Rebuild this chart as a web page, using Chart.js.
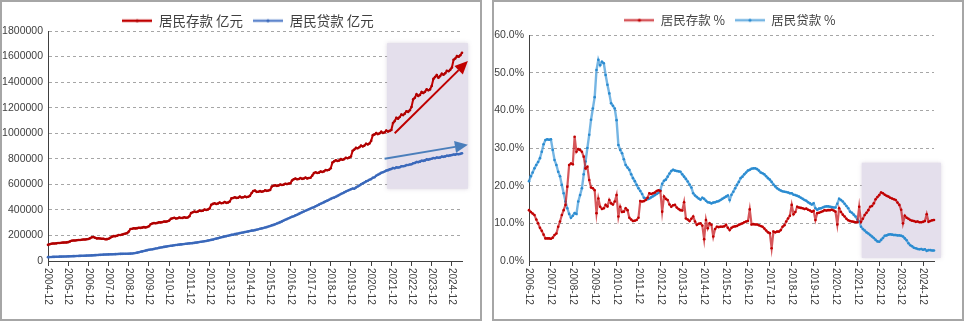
<!DOCTYPE html>
<html>
<head>
<meta charset="utf-8">
<script src="https://cdn.jsdelivr.net/npm/chart.js@4.4.1/dist/chart.umd.min.js"></script>
<style>
  html, body { margin: 0; padding: 0; background: #fff; }
  .panel { position: absolute; top: 0; height: 321px; box-sizing: border-box; border: 2px solid #a6a6a6; }
  #p1 { left: 0; width: 482px; }
  #p2 { left: 492px; width: 472px; }
  canvas { display: block; }
</style>
</head>
<body>
<div class="panel" id="p1"><canvas id="c1" width="478" height="317"></canvas></div>
<div class="panel" id="p2"><canvas id="c2" width="468" height="317"></canvas></div>
<script>
// left chart: 居民存款 / 居民贷款, 亿元, monthly 2004-12 .. 2025-06
const depositLevel = [
  126200,
  131000,134500,136500,136800,138000,140500,141000,142500,144000,144500,145500,147500,
  153000,158000,160000,160500,162000,164500,164000,166000,168500,168000,170000,172000,
  178000,186000,187500,182000,177000,178500,176000,174000,174500,170500,171000,174000,
  181000,190000,195000,194500,198000,203500,204000,206500,211000,214500,218000,230000,
  250000,252500,256500,255000,257000,260000,259000,261500,265000,263000,266000,272000,
  288000,294000,297000,295500,298000,303000,302000,304500,309500,308000,311000,316000,
  330000,334000,338500,333000,334500,340500,336000,337500,342500,338000,340500,350000,
  376000,381000,387000,384000,386500,394000,391000,394000,402000,399000,402500,411000,
  440000,447000,452000,446500,449500,458000,451500,454500,462000,455000,458000,466000,
  490000,493000,499000,494000,495500,503500,496500,498500,505000,500000,502500,510000,
  532000,548000,551000,541000,542000,546500,542000,545500,553000,549000,551500,556000,
  583000,589500,593000,588000,590500,598500,594500,597500,605000,602000,605500,608000,
  630000,640000,645000,640000,641500,649000,643000,645500,653000,646500,649000,652000,
  668000,688000,694000,689000,691500,701000,697000,701500,712000,710000,714000,726000,
  770000,780000,789000,783000,786000,797000,792000,797500,808000,804000,810000,818000,
  862000,872000,885000,882000,890000,903000,897000,903000,918000,912000,920000,940000,
  985000,990000,1001000,993000,999000,1012000,1002000,1007000,1021000,1013000,1018000,1025000,
  1080000,1095000,1120000,1114000,1127000,1147000,1142000,1153000,1172000,1167000,1180000,1205000,
  1265000,1278000,1305000,1292000,1300000,1323000,1315000,1324000,1344000,1336000,1343000,1370000,
  1425000,1440000,1455000,1435000,1447000,1466000,1458000,1469000,1488000,1485000,1496000,1514000,
  1575000,1585000,1604000,1598000,1610000,1630000
];
const loanLevel = [
  30000,
  30800,31300,31900,32400,32900,33400,33900,34300,34800,35200,35700,36200,
  36800,37200,37800,38400,39000,39600,40100,40600,41100,41600,42100,42600,
  43300,43900,44700,45600,46500,47400,48200,49000,49900,50600,51300,51800,
  52300,52600,53200,53800,54400,55000,55500,55900,56300,56600,56900,57300,
  57800,58600,60500,62800,65500,68800,72000,75200,78500,81500,84800,88000,
  90000,91500,94500,97500,100000,103000,105500,108000,110500,112500,115000,117500,
  119000,120500,123000,125000,126500,128500,130000,131500,133000,134500,136000,138000,
  139000,140000,142000,144000,146000,148500,150500,152500,155000,157000,159500,162500,
  165500,167500,172000,175500,178500,182500,185500,188500,192000,195000,198000,201000,
  204500,206000,210000,212500,215000,218500,221000,223500,226500,229000,231500,234500,
  237500,239000,242000,245000,248000,252000,255000,258500,262000,265500,269500,274000,
  279000,282500,288000,293000,298000,304000,310000,316000,322500,328000,334000,340000,
  346500,350500,357000,362500,368500,375000,381000,387000,393500,399000,405000,411000,
  417000,421000,428000,434000,441000,448000,454000,460500,467000,472500,479000,486000,
  492500,496000,503000,509500,516500,524000,530500,537000,544000,549500,556000,562000,
  567000,566000,575000,583500,591000,600000,607500,614500,623000,628500,635500,641000,
  651000,656000,667500,675000,681500,690000,695000,700500,707500,711000,717000,720500,
  728000,726000,733000,731500,734000,742000,741500,744000,750500,751500,755000,757000,
  765000,767500,775000,774000,777500,785000,783500,787500,795000,793000,797500,800000,
  806000,804500,810000,807500,810500,816500,815000,818500,824000,823000,827000,829000,
  833000,832500,837500,836000,838500,843000
];

// right chart: 同比 %, monthly 2006-12 .. 2025-06
const depositGrowth = [
  13.5,
  13.0,12.6,12.2,11.0,10.0,8.8,8.0,7.0,6.0,6.0,6.0,5.9,
  6.2,6.9,7.3,9.1,10.5,12.2,13.5,14.9,19.7,25.5,25.9,25.7,
  33.0,29.0,29.7,29.5,29.0,27.7,24.6,25.0,21.5,19.5,19.3,18.8,
  12.7,16.6,14.4,13.8,14.0,14.9,14.5,16.2,15.3,15.0,15.8,17.5,
  11.8,14.4,13.0,13.1,14.0,13.5,11.5,11.0,10.6,10.7,10.9,11.5,
  15.9,15.8,15.9,16.2,16.8,18.0,17.8,18.0,18.2,18.6,18.8,18.6,
  13.1,17.1,16.5,16.2,15.0,14.4,14.8,14.9,14.2,13.8,13.5,13.4,
  15.6,11.3,11.0,10.6,11.2,11.8,10.5,9.6,9.9,10.0,9.4,5.8,
  10.9,8.7,10.0,9.6,6.5,8.5,9.1,9.0,9.1,9.1,9.2,9.6,
  8.8,8.2,8.8,9.1,9.2,9.3,9.6,9.8,10.0,10.3,10.5,10.6,
  13.7,9.7,9.8,9.7,9.7,9.5,9.3,9.1,8.6,8.1,7.6,7.4,
  3.4,7.8,7.6,7.8,7.8,8.2,9.1,9.5,10.5,11.3,12.0,14.9,
  12.4,13.0,14.4,14.2,14.1,14.0,13.8,13.9,13.6,13.4,13.1,13.3,
  10.9,12.7,12.8,13.0,13.2,13.5,13.4,13.5,13.5,13.6,13.4,13.1,
  9.7,14.0,13.0,12.3,11.8,11.2,10.8,10.6,10.5,10.4,10.3,10.3,
  14.4,10.4,11.2,12.2,12.8,13.5,14.4,14.6,15.3,16.4,17.0,17.5,
  18.2,18.0,17.6,17.3,17.1,16.8,16.6,16.4,16.2,15.5,14.9,13.6,
  10.0,12.0,11.5,11.2,10.9,10.7,10.6,10.4,10.5,10.3,10.3,10.4,
  10.6,12.4,10.4,10.6,10.8,10.9
];
const loanGrowth = [
  21.2,
  22.5,23.5,24.6,25.5,26.3,27.3,29.0,31.0,32.1,32.3,32.2,32.3,
  29.5,26.8,25.5,23.7,22.5,20.2,18.0,15.8,14.0,12.5,11.5,12.0,
  12.7,12.5,15.8,17.5,19.3,23.0,26.4,30.0,33.5,37.5,40.5,43.5,
  50.7,53.4,52.0,52.9,52.5,49.4,46.8,44.5,41.9,41.2,40.5,37.4,
  30.8,29.5,28.6,27.0,25.5,24.8,24.2,23.0,22.0,21.2,20.2,19.3,
  18.6,17.8,16.8,16.6,16.4,16.6,16.9,17.2,17.5,17.8,18.1,18.8,
  20.5,21.3,21.6,22.4,23.2,23.9,24.2,24.0,23.9,23.8,23.7,23.0,
  22.4,21.8,21.1,20.3,19.5,18.0,17.4,17.0,16.6,16.3,16.8,16.5,
  16.0,15.6,15.5,15.3,15.5,15.6,15.8,15.9,16.2,16.5,16.8,17.1,
  17.4,16.2,17.6,18.4,19.3,20.2,21.0,22.0,22.4,23.0,23.5,24.0,
  24.2,24.5,24.6,24.6,24.4,24.0,23.5,23.3,23.0,22.5,22.0,21.6,
  21.0,20.3,19.8,19.3,19.0,18.7,18.5,18.4,18.3,18.2,18.0,18.0,
  17.6,17.5,17.3,17.1,16.8,16.5,16.2,16.0,15.6,15.3,15.0,15.3,
  14.0,13.6,13.9,14.0,14.2,14.4,14.5,14.5,14.4,14.3,14.2,14.2,
  15.2,16.5,16.2,15.8,15.2,14.6,14.0,13.1,12.8,12.3,11.8,11.0,
  10.5,9.1,8.5,8.1,7.6,7.3,6.9,6.5,6.1,5.6,5.2,5.1,
  5.6,6.1,6.7,6.8,7.0,7.1,7.0,6.9,6.9,6.8,6.8,6.7,
  6.5,6.0,5.5,4.7,4.2,3.9,3.5,3.4,3.2,3.1,3.2,3.0,
  3.1,2.7,2.9,2.9,2.8,2.8
];

function monthLabels(y, m, n) {
  const out = [];
  for (let i = 0; i < n; i++) {
    out.push(y + '-' + String(m).padStart(2, '0'));
    m++; if (m > 12) { m = 1; y++; }
  }
  return out;
}
const levelMonths = monthLabels(2004, 12, depositLevel.length);
const growthMonths = monthLabels(2006, 12, depositGrowth.length);

const TICK_FONT = '"Liberation Sans", Arial, sans-serif';
const CJK_FONT = '"Noto Sans CJK SC", sans-serif';

function legendIcon(dot, line) {
  const c = document.createElement('canvas');
  c.width = 30; c.height = 6;
  const g = c.getContext('2d');
  g.strokeStyle = line; g.lineWidth = 2.5;
  g.beginPath(); g.moveTo(0, 3); g.lineTo(30, 3); g.stroke();
  g.fillStyle = dot;
  g.beginPath(); g.arc(15, 3, 1.6, 0, Math.PI * 2); g.fill();
  return c;
}

// shaded box + arrows, placed in data units through the scales
function annotations(box, arrows) {
  return {
    id: 'annot',
    beforeDatasetsDraw(chart) {
      const {ctx, scales: {x, y}} = chart;
      const l = x.getPixelForValue(box.x0), r = x.getPixelForValue(box.x1);
      const t = y.getPixelForValue(box.y1), b = y.getPixelForValue(box.y0);
      ctx.save();
      ctx.shadowColor = 'rgba(120,100,140,0.25)';
      ctx.shadowBlur = 4;
      ctx.fillStyle = 'rgb(228,223,236)';
      ctx.fillRect(l, t, r - l, b - t);
      ctx.restore();
    },
    afterDatasetsDraw(chart) {
      const {ctx, scales: {x, y}} = chart;
      arrows.forEach(a => {
        const x1 = x.getPixelForValue(a.x0), y1 = y.getPixelForValue(a.y0);
        const x2 = x.getPixelForValue(a.x1), y2 = y.getPixelForValue(a.y1);
        const ang = Math.atan2(y2 - y1, x2 - x1);
        const hl = 13, hw = 6;
        ctx.save();
        ctx.strokeStyle = a.color; ctx.fillStyle = a.color; ctx.lineWidth = 2;
        ctx.beginPath();
        ctx.moveTo(x1, y1);
        ctx.lineTo(x2 - hl * Math.cos(ang), y2 - hl * Math.sin(ang));
        ctx.stroke();
        ctx.beginPath();
        ctx.moveTo(x2, y2);
        ctx.lineTo(x2 - hl * Math.cos(ang) + hw * Math.sin(ang), y2 - hl * Math.sin(ang) - hw * Math.cos(ang));
        ctx.lineTo(x2 - hl * Math.cos(ang) - hw * Math.sin(ang), y2 - hl * Math.sin(ang) + hw * Math.cos(ang));
        ctx.closePath();
        ctx.fill();
        ctx.restore();
      });
    }
  };
}

// x labels read top-to-bottom, only the December ticks
function verticalLabels(months) {
  return {
    id: 'vlabels',
    afterDraw(chart) {
      const {ctx, scales: {x}} = chart;
      ctx.save();
      ctx.font = '10px ' + TICK_FONT;
      ctx.fillStyle = '#404040';
      ctx.textAlign = 'left';
      ctx.textBaseline = 'middle';
      months.forEach((m, i) => {
        if (!m.endsWith('-12')) return;
        ctx.save();
        ctx.translate(x.getPixelForValue(i), x.bottom - x.height + 7);
        ctx.rotate(Math.PI / 2);
        ctx.fillText(m, 0, 0);
        ctx.restore();
      });
      ctx.restore();
    }
  };
}

// fixed legend band height, and a small nudge of where the legend is drawn
function legendPlace(height, dx, dy) {
  return {
    id: 'legendPlace',
    beforeInit(chart) {
      const lg = chart.legend;
      const fit = lg.fit;
      lg.fit = function () { fit.call(this); this.height = height; };
      const draw = lg.draw;
      lg.draw = function (area) {
        this.ctx.save();
        this.ctx.translate(dx, dy);
        draw.call(this, area);
        this.ctx.restore();
      };
    }
  };
}

function makeChart(id, cfg) {
  const icons = cfg.series.map(s => legendIcon(s.point, s.line));
  return new Chart(document.getElementById(id), {
    type: 'line',
    data: {
      labels: cfg.months,
      datasets: cfg.series.map(s => ({
        label: s.label,
        data: s.data,
        borderColor: s.line,
        borderWidth: s.width,
        pointRadius: 1.3,
        pointBackgroundColor: s.point,
        pointBorderWidth: 0,
        tension: 0
      }))
    },
    options: {
      responsive: false,
      animation: false,
      layout: { padding: { left: 0, right: cfg.padRight, top: 0, bottom: 0 } },
      plugins: {
        tooltip: { enabled: false },
        legend: {
          display: true,
          position: 'top',
          labels: {
            usePointStyle: true,
            pointStyleWidth: 30,
            padding: 10,
            color: '#404040',
            font: { family: CJK_FONT, size: cfg.legendSize },
            generateLabels: chart => chart.data.datasets.map((d, i) => ({
              text: d.label, pointStyle: icons[i], fillStyle: 'transparent',
              strokeStyle: 'transparent', lineWidth: 0, hidden: false,
              datasetIndex: i, fontColor: '#404040'
            }))
          }
        }
      },
      scales: {
        x: {
          type: 'category',
          ticks: { display: false, autoSkip: false },
          grid: {
            drawOnChartArea: false, drawTicks: true, tickLength: 5,
            color: c => (cfg.months[c.index] || '').endsWith('-12') ? '#404040' : 'rgba(0,0,0,0)'
          },
          border: { display: true, color: '#404040', width: 1 },
          afterFit: s => { s.height = 58; }
        },
        y: {
          min: 0, max: cfg.yMax,
          ticks: {
            stepSize: cfg.yStep, color: '#404040', padding: 5,
            font: { family: TICK_FONT, size: 10.5 },
            callback: cfg.yFormat
          },
          grid: {
            drawTicks: false, lineWidth: 1,
            color: c => c.tick && c.tick.value === 0 ? 'rgba(0,0,0,0)' : '#a6a6a6'
          },
          border: { display: true, color: '#404040', width: 1, dash: [3, 3] },
          afterFit: s => { s.width = cfg.yWidth; }
        }
      }
    },
    plugins: [
      legendPlace(cfg.legendH, cfg.legendDx, cfg.legendDy),
      annotations(cfg.box, cfg.arrows),
      verticalLabels(cfg.months)
    ]
  });
}

makeChart('c1', {
  months: levelMonths,
  series: [
    { label: '居民存款 亿元', data: depositLevel, line: '#C00000', point: '#B00000', width: 2 },
    { label: '居民贷款 亿元', data: loanLevel, line: 'rgba(68,114,196,0.85)', point: '#3A68BA', width: 2.2 }
  ],
  yMax: 1800000, yStep: 200000, yWidth: 46, padRight: 18,
  yFormat: v => String(v),
  legendH: 29, legendSize: 13.5, legendDx: 16, legendDy: 2,
  box: { x0: 201.5, x1: 249.5, y0: 565000, y1: 1705000 },
  arrows: [
    { x0: 206, y0: 1000000, x1: 249.5, y1: 1565000, color: '#C00000' },
    { x0: 200, y0: 800000, x1: 249.5, y1: 910000, color: '#4A7EBB' }
  ]
});

makeChart('c2', {
  months: growthMonths,
  series: [
    { label: '居民存款 %', data: depositGrowth, line: 'rgba(200,30,35,0.75)', point: '#C00000', width: 2.2 },
    { label: '居民贷款 %', data: loanGrowth, line: 'rgba(58,150,215,0.7)', point: '#2A8BD0', width: 2.4 }
  ],
  yMax: 60, yStep: 10, yWidth: 35, padRight: 28,
  yFormat: v => v.toFixed(1) + '%',
  legendH: 33, legendSize: 12.5, legendDx: 16, legendDy: 2,
  box: { x0: 182.4, x1: 225.8, y0: 0.8, y1: 26.1 },
  arrows: []
});
</script>
</body>
</html>
